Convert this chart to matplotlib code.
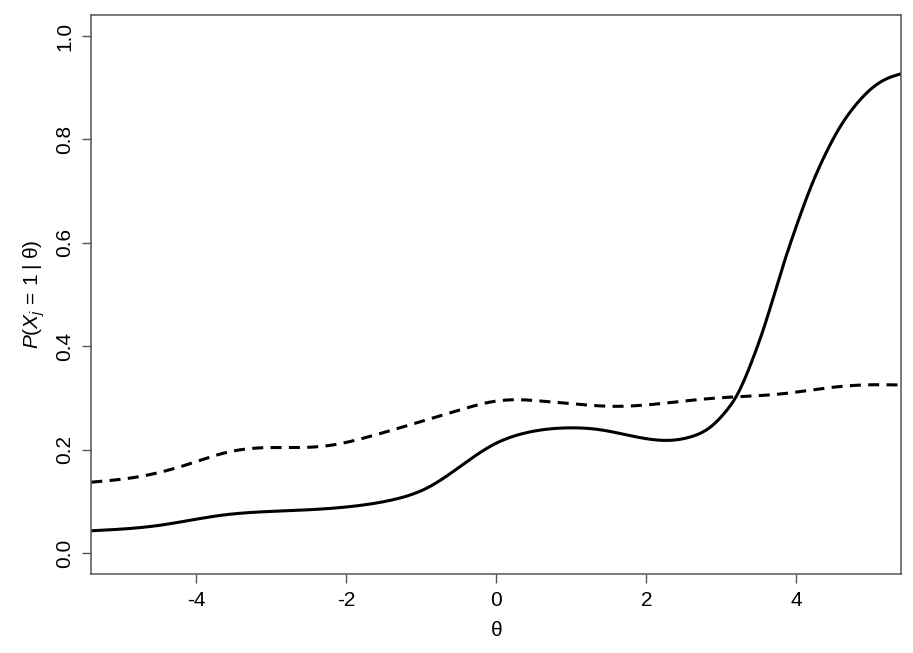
import numpy as np
import matplotlib
matplotlib.use("Agg")
import matplotlib.pyplot as plt

# -----------------------------
# Curve points
# -----------------------------
theta_solid = [-5.4, -4.52, -3.64, -2.75, -1.82, -1.38, -0.92, -0.48, -0.04,
               0.41, 0.94, 1.38, 1.87, 2.32, 2.6, 2.85, 3.05, 3.2, 3.4, 3.6,
               3.8, 4.0, 4.2, 4.4, 4.6, 4.8, 5.0, 5.2, 5.4]
p_solid = [0.043, 0.053, 0.0735, 0.082, 0.092, 0.103, 0.126, 0.1675, 0.2095,
           0.233, 0.242, 0.2385, 0.2245, 0.218, 0.225, 0.243, 0.272, 0.303, 0.368, 0.45,
           0.545, 0.632, 0.71, 0.775, 0.828, 0.868, 0.898, 0.917, 0.927]

theta_dashed = [-5.4, -4.75, -4.08, -3.64, -3.2, -2.62, -2.18, -1.75, -0.92,
                -0.48, -0.04, 0.27, 0.67, 1.07, 1.47, 1.87, 2.67, 3.18, 3.78,
                4.45, 4.89, 5.4]
p_dashed = [0.137, 0.148, 0.173, 0.193, 0.203, 0.204, 0.209, 0.223, 0.258,
            0.277, 0.293, 0.2965, 0.293, 0.288, 0.284, 0.285, 0.2965, 0.302, 0.3075,
            0.320, 0.325, 0.325]

x_ticks = [-4, -2, 0, 2, 4]
y_ticks = [0.0, 0.2, 0.4, 0.6, 0.8, 1.0]


# -----------------------------
# Natural cubic spline (to draw smooth curves through the read points)
# -----------------------------
def spline(xs, ys, n=400):
    x = np.asarray(xs, float)
    y = np.asarray(ys, float)
    k = len(x)
    h = np.diff(x)
    A = np.zeros((k, k))
    b = np.zeros(k)
    A[0, 0] = A[-1, -1] = 1.0
    for i in range(1, k - 1):
        A[i, i - 1] = h[i - 1]
        A[i, i] = 2 * (h[i - 1] + h[i])
        A[i, i + 1] = h[i]
        b[i] = 3 * ((y[i + 1] - y[i]) / h[i] - (y[i] - y[i - 1]) / h[i - 1])
    c = np.linalg.solve(A, b)
    xx = np.linspace(x[0], x[-1], n)
    idx = np.clip(np.searchsorted(x, xx) - 1, 0, k - 2)
    hi = h[idx]
    bb = (y[idx + 1] - y[idx]) / hi - hi * (2 * c[idx] + c[idx + 1]) / 3
    dd = (c[idx + 1] - c[idx]) / (3 * hi)
    t = xx - x[idx]
    return xx, y[idx] + bb * t + c[idx] * t ** 2 + dd * t ** 3


plt.rcParams["font.family"] = ["Liberation Sans", "DejaVu Sans"]
plt.rcParams["mathtext.fontset"] = "custom"
plt.rcParams["mathtext.rm"] = "Liberation Sans"
plt.rcParams["mathtext.it"] = "Liberation Sans:italic"

fig = plt.figure(figsize=(9.13, 6.53), dpi=100)
ax = fig.add_axes([91.3 / 913, 1 - 573.7 / 653, 810 / 913, 558.4 / 653])

xs, ys = spline(theta_solid, p_solid)
ax.plot(xs, ys, color="black", lw=2.2, solid_capstyle="butt")
xd, yd = spline(theta_dashed, p_dashed)
ax.plot(xd, yd, color="black", lw=2.2, dashes=(3.6, 2.4))

ax.set_xlim(-5.4, 5.4)
ax.set_ylim(-0.04, 1.04)
ax.set_xticks(x_ticks)
ax.set_xticklabels([str(v) for v in x_ticks])
ax.set_yticks(y_ticks)
ax.set_yticklabels([f"{v:.1f}" for v in y_ticks], rotation=90, va="center")

for s in ax.spines.values():
    s.set_color("#555555")
    s.set_linewidth(1.1)
ax.tick_params(length=6.5, width=1.0, color="#555555", labelsize=15, pad=6)

ax.set_xlabel("θ", fontsize=15, labelpad=8)
ax.set_ylabel(r"$P(X_j\,=\,1\;|\;\mathrm{θ})$", fontsize=15, labelpad=6)

fig.savefig("out.png", dpi=100)
